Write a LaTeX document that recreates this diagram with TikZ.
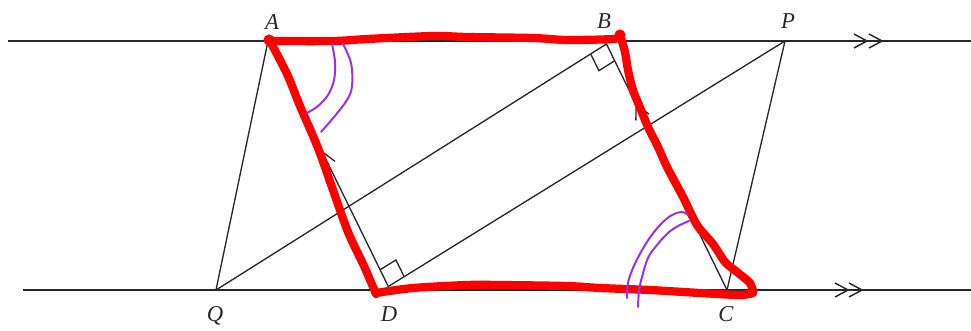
\documentclass[tikz,border=0pt]{standalone}
\usepackage{fontspec}
\setmainfont{Liberation Serif}
\usetikzlibrary{calc}
\definecolor{redpen}{RGB}{255,0,0}
\definecolor{purplepen}{RGB}{150,50,235}
\definecolor{ink}{RGB}{40,40,40}
\begin{document}
\begin{tikzpicture}[x=0.75pt,y=-0.75pt,
  geo/.style={line width=1pt, draw=ink},
  rail/.style={line width=1.3pt, draw=ink},
  chev/.style={line width=1.1pt, draw=ink},
  pen/.style={line width=6.2pt, draw=redpen, line cap=round, line join=round},
  arcpen/.style={line width=1.5pt, draw=purplepen, line cap=round, line join=round},
  lab/.style={font=\fontsize{17}{20}\selectfont\itshape, anchor=base, inner sep=0pt, text=ink}]
\useasboundingbox (0,0) rectangle (971,331);

% points
\coordinate (L1) at (8,41);   \coordinate (R1) at (971,41);
\coordinate (L2) at (23,290); \coordinate (R2) at (971,290);
\coordinate (A) at (268,41);
\coordinate (B) at (605,41);
\coordinate (P) at (785,41);
\coordinate (Q) at (216,290);
\coordinate (D) at (390,290);
\coordinate (C) at (727,290);
\coordinate (F) at ($(B)!0.012!(C)$);
\coordinate (G) at ($(D)!0.014!(A)$);

% parallel lines
\draw[rail] (L1) -- (R1);
\draw[rail] (L2) -- (R2);
\foreach \t/\yy/\n in {867/41/ta, 882/41/tb, 848/290/tc, 862/290/td}{
  \coordinate (\n) at (\t,\yy);
  \draw[chev] ($(\n)+(-13,-7)$) -- (\n) -- ($(\n)+(-13,7)$);
}

% figure lines
\draw[geo] (Q) -- (A);
\draw[geo] (P) -- (C);
\draw[geo] (A) -- (D);
\draw[geo] (B) -- (C);
\draw[geo] (Q) -- (F);
\draw[geo] (G) -- (P);

% arrows on AD and BC (pointing up)
\coordinate (adtip) at ($(D)!0.555!(A)$);
\draw[geo] ($(adtip)!12pt!27:(D)$) -- (adtip) -- ($(adtip)!12pt!-27:(D)$);
\coordinate (bctip) at ($(C)!0.745!(B)$);
\draw[geo] ($(bctip)!12pt!27:(C)$) -- (bctip) -- ($(bctip)!12pt!-27:(C)$);

% right angle marks
\coordinate (f1) at ($(F)!14pt!(Q)$);
\coordinate (f2) at ($(F)!14pt!(C)$);
\draw[geo] (f1) -- ($(f1)+(f2)-(F)$) -- (f2);
\coordinate (g1) at ($(G)!14pt!(A)$);
\coordinate (g2) at ($(G)!14pt!(P)$);
\draw[geo] (g1) -- ($(g1)+(g2)-(G)$) -- (g2);

% labels
\node[lab] (lA) at (272,30) {A};
\node[lab] (lB) at (604,29) {B};
\node[lab] (lP) at (788,29) {P};
\node[lab] (lQ) at (215,322) {Q};
\node[lab] (lD) at (389,322) {D};
\node[lab] (lC) at (726,322) {C};

% red pen
\draw[pen] plot[smooth, tension=0.5] coordinates {(269,41) (333,41) (367,39) (433,36) (467,37) (533,38) (567,40) (613,39) (620,36)};
\draw[pen] plot[smooth, tension=0.5] coordinates {(620,35) (625,52) (628,70) (633,90) (641,110) (648,127) (658,147) (667,167) (683,197) (697,225) (713,244) (725,262) (737,272) (750,283) (753,292)};
\draw[pen] plot[smooth, tension=0.5] coordinates {(753,293) (740,295) (700,293) (650,290) (600,288) (567,286) (500,285) (467,285) (413,288) (376,293)};
\draw[pen] plot[smooth, tension=0.5] coordinates {(376,294) (364,266) (348,232) (333,190) (318,148) (300,106) (287,74) (270,41)};
\fill[redpen] (269,40) circle[radius=4.2pt];
\fill[redpen] (620,35) circle[radius=4.2pt];
\fill[redpen] (752,292) circle[radius=4pt];

% purple angle marks
\draw[arcpen] plot[smooth, tension=0.6] coordinates {(332,44) (335,62) (334,80) (328,95) (318,106) (307,113)};
\draw[arcpen] plot[smooth, tension=0.6] coordinates {(343,44) (351,63) (352,86) (347,100) (334,117) (321,132)};
\draw[arcpen] plot[smooth, tension=0.6] coordinates {(627,298) (628,283) (633,268) (641,252) (651,236) (662,223) (672,215) (682,212) (688,215)};
\draw[arcpen] plot[smooth, tension=0.6] coordinates {(638,307) (639,291) (642,277) (648,258) (657,245) (668,233) (678,226) (689,221)};
\end{tikzpicture}
\end{document}
